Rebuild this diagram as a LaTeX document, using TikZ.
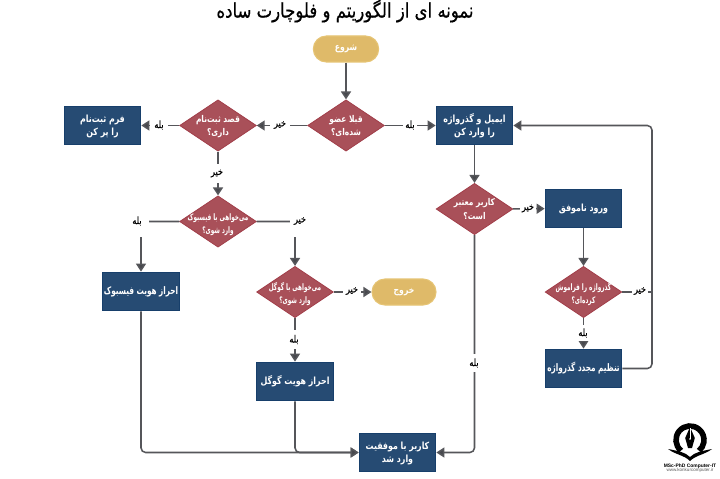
\documentclass[tikz,border=0pt]{standalone}
\usepackage{fontspec}
\usetikzlibrary{shapes.geometric,arrows.meta}
\TeXXeTstate=1
\newfontfamily\arfont[Script=Arabic,FakeStretch=.8,FakeBold=.35]{DejaVu Sans}
\newfontfamily\artitle[Script=Arabic,FakeStretch=.82,FakeBold=.5]{DejaVu Sans}
\newfontfamily\arbold[Script=Arabic,FakeStretch=.8]{DejaVu Sans Bold}
\newfontfamily\arlong[Script=Arabic,FakeStretch=.7]{DejaVu Sans Bold}
\newfontfamily\arnarrow[Script=Arabic,FakeStretch=.64]{DejaVu Sans Bold}
\newfontfamily\latfont{Liberation Sans}
\definecolor{boxfill}{HTML}{264B73}
\definecolor{boxline}{HTML}{173F6B}
\definecolor{diafill}{HTML}{A95059}
\definecolor{dialine}{HTML}{A23F4A}
\definecolor{pillfill}{HTML}{DFBA69}
\definecolor{pillline}{HTML}{E6C474}
\definecolor{conn}{HTML}{55565A}
\definecolor{tipc}{HTML}{47484D}
\newcommand\onel[1]{\makebox[0pt]{\raisebox{-.36em}{#1}}}
\newcommand\twol[2]{\smash{\makebox[0pt]{\raisebox{\dimexpr 5pt-.36em}{#1}}\makebox[0pt]{\raisebox{\dimexpr -5pt-.36em}{#2}}}}
\newcommand\twolow[2]{\smash{\makebox[0pt]{\raisebox{\dimexpr 3.5pt-.36em}{#1}}\makebox[0pt]{\raisebox{\dimexpr -6.3pt-.36em}{#2}}}}
\tikzset{
 x=0.75pt,y=-0.75pt,
 boxn/.style={rectangle,draw=boxline,fill=boxfill,line width=.8pt,minimum width=57.5pt,minimum height=29pt,inner sep=0pt,text=white,font=\arbold\fontsize{7.4}{9}\selectfont},
 boxl/.style={boxn,font=\arlong\fontsize{7.8}{9}\selectfont},
 dia/.style={diamond,draw=dialine,fill=diafill,line width=.6pt,minimum width=57.5pt,minimum height=38.5pt,inner sep=0pt,text=white,font=\arbold\fontsize{7}{9}\selectfont},
 dias/.style={dia,font=\arnarrow\fontsize{6.7}{8}\selectfont},
 pill/.style={rectangle,rounded corners=9.7pt,draw=pillline,fill=pillfill,line width=.8pt,minimum height=19.5pt,inner sep=0pt,text=white,font=\arbold\fontsize{7.2}{9}\selectfont},
 conn/.style={draw=conn,line width=1.15pt,rounded corners=3.5pt,-{Triangle[length=6pt,width=7.5pt,fill=tipc]}},
 connp/.style={draw=conn,line width=1.15pt,rounded corners=3.5pt},
 lab/.style={fill=white,inner sep=0pt,text=black,font=\arfont\fontsize{7.6}{9}\selectfont},
}
\begin{document}
\begin{tikzpicture}
\useasboundingbox (0,0) rectangle (720,478);
\fill[white] (0,0) rectangle (720,478);
\node[font=\artitle\fontsize{15.1}{17}\selectfont] (title) at (345,11) {\onel{\beginR نمونه ای از الگوریتم و فلوچارت ساده\endR}};
% nodes
\node[pill,minimum width=49pt] (start) at (346,49) {\onel{\beginR شروع\endR}};
\node[dia] (d1) at (346,125.5) {\twol{\beginR قبلا عضو\endR}{\beginR شده‌ای؟\endR}};
\node[dia] (d2) at (218,125.5) {\twol{\beginR قصد ثبت‌نام\endR}{\beginR داری؟\endR}};
\node[boxn] (form) at (102.5,125.5) {\twol{\beginR فرم ثبت‌نام\endR}{\beginR را پر کن\endR}};
\node[dias] (d3) at (218,221.5) {\twolow{\beginR می‌خواهی با فیسبوک\endR}{\beginR وارد شوی؟\endR}};
\node[boxn] (email) at (474.5,125.5) {\twol{\beginR ایمیل و گذرواژه\endR}{\beginR را وارد کن\endR}};
\node[dia] (d4) at (474.5,209) {\twol{\beginR کاربر معتبر\endR}{\beginR است؟\endR}};
\node[boxn] (fail) at (583.5,208.5) {\onel{\beginR ورود ناموفق\endR}};
\node[dias] (d5) at (583.5,292) {\twolow{\beginR گذرواژه را فراموش\endR}{\beginR کرده‌ای؟\endR}};
\node[boxl] (reset) at (583.5,368.5) {\onel{\beginR تنظیم مجدد گذرواژه\endR}};
\node[boxl] (fb) at (141,291.5) {\onel{\beginR احراز هویت فیسبوک\endR}};
\node[dias] (d6) at (295,292) {\twolow{\beginR می‌خواهی با گوگل\endR}{\beginR وارد شوی؟\endR}};
\node[pill,minimum width=48pt] (exit) at (404,292) {\onel{\beginR خروج\endR}};
\node[boxn] (google) at (295,381.5) {\onel{\beginR احراز هویت گوگل\endR}};
\node[boxn] (ok) at (397.5,452.5) {\twol{\beginR کاربر با موفقیت\endR}{\beginR وارد شد\endR}};
% connectors
\draw[conn] (start) -- (d1);
\draw[conn] (d1) -- (d2);
\draw[conn] (d1) -- (email);
\draw[conn] (d2) -- (form);
\draw[conn] (d2) -- (d3);
\draw[conn] (d3.east) -| (d6.north);
\draw[conn] (d3.west) -| (fb.north);
\draw[conn] (d6) -- (exit);
\draw[conn] (d6) -- (google);
\draw[conn] (email) -- (d4);
\draw[conn] (d4) -- (fail);
\draw[conn] (fail) -- (d5);
\draw[conn] (d5) -- (reset);
\coordinate (rr) at (652,368.5);
\coordinate (rt) at (652,125.5);
\coordinate (d5r) at (652,292);
\draw[connp] (d5.east) -- (d5r);
\draw[conn] (reset.east) -- (rr) -- (rt) -- (email.east);
\draw[conn] (d4.south) |- (ok.east);
\draw[conn] (fb.south) |- (ok.west);
\draw[conn] (google.south) |- (ok.west);
% labels
\node[lab,minimum width=15pt,minimum height=10pt] (l1) at (280,125) {\onel{\beginR خیر\endR}};
\node[lab,minimum width=11pt,minimum height=10pt] (l2) at (410,125) {\onel{\beginR بله\endR}};
\node[lab,minimum width=14pt,minimum height=10pt] (l3) at (159,125) {\onel{\beginR بله\endR}};
\node[lab,minimum width=14pt,minimum height=14pt] (l4) at (217,173.5) {\onel{\beginR خیر\endR}};
\node[lab,minimum width=18pt,minimum height=24pt] (l5) at (137,221) {\onel{\beginR بله\endR}};
\node[lab,minimum width=15pt,minimum height=24pt] (l6) at (300,221) {\onel{\beginR خیر\endR}};
\node[lab,minimum width=13.5pt,minimum height=10pt] (l7) at (352,291) {\onel{\beginR خیر\endR}};
\node[lab,minimum width=12pt,minimum height=14pt] (l8) at (294,339.5) {\onel{\beginR بله\endR}};
\node[lab,minimum width=12pt,minimum height=10pt] (l9) at (528,208.5) {\onel{\beginR خیر\endR}};
\node[lab,minimum width=12pt,minimum height=14pt] (l10) at (474,363) {\onel{\beginR بله\endR}};
\node[lab,minimum width=12pt,minimum height=10pt] (l11) at (640,291) {\onel{\beginR خیر\endR}};
\node[lab,minimum width=12pt,minimum height=12pt] (l12) at (583,333) {\onel{\beginR بله\endR}};
% logo
\begin{scope}[shift={(690,440)},x=.75pt,y=.75pt]
 \draw[black,line width=4.2pt] (-9,-10.7) arc[start angle=230,end angle=-50,radius=14];
 \fill[black] (0,13) -- (4.8,2) -- (2,-8) -- (-2,-8) -- (-4.8,2) -- cycle;
 \draw[white,line width=.4pt] (0,12) -- (0,1);
 \fill[white] (0,1) circle (.9);
 \fill[black] (-22,-9) .. controls (-12,-11) and (-5,-12) .. (0,-17) .. controls (5,-12) and (12,-11) .. (22,-9) .. controls (14,-15) and (6,-15) .. (0,-21) .. controls (-6,-15) and (-14,-15) .. (-22,-9);
\end{scope}
\node[inner sep=0pt,font=\latfont\bfseries\fontsize{3.7}{4}\selectfont] (brand) at (690,466) {MSc-PhD Computer-IT};
\node[inner sep=0pt,text=black!65,font=\latfont\fontsize{3.4}{4}\selectfont] (site) at (690,470.5) {www.konkurcomputer.ir};
\end{tikzpicture}
\end{document}
